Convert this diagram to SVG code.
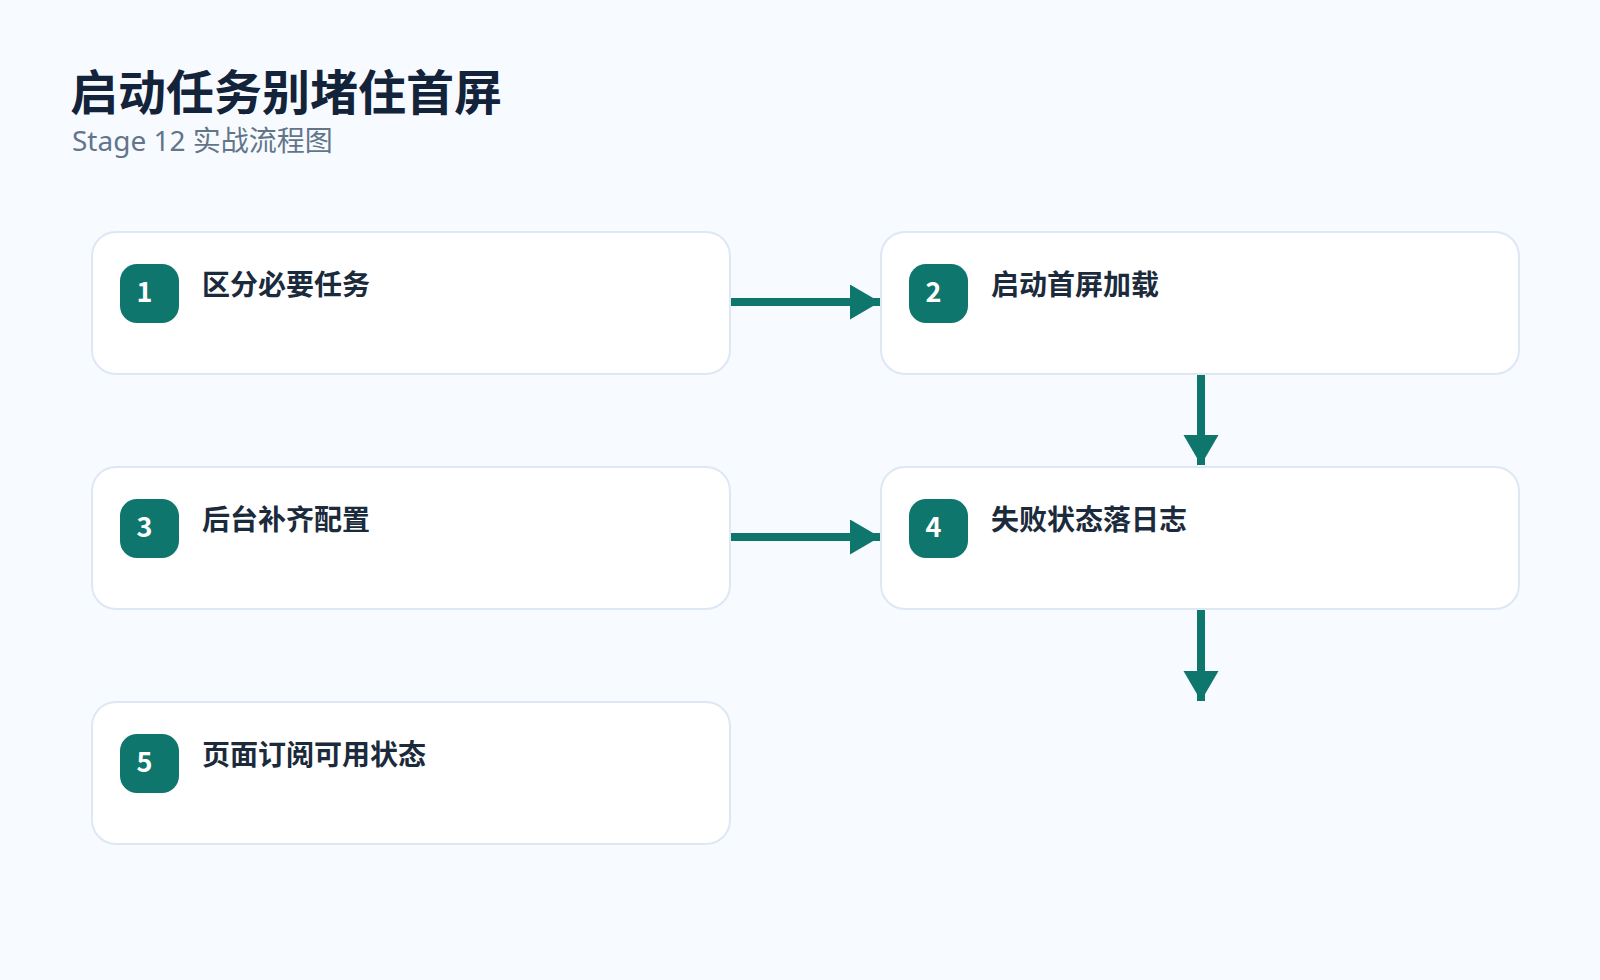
<svg xmlns="http://www.w3.org/2000/svg" width="1600" height="980" viewBox="0 0 1600 980">
<defs>
<style>
.box{fill:#ffffff;stroke:#dde8f4;stroke-width:2}
.badge{fill:#0f766e}
.num{font-family:"Noto Sans CJK SC","Noto Sans",sans-serif;font-weight:700;font-size:27px;fill:#ffffff;text-anchor:middle}
.lbl{font-family:"Noto Sans CJK SC",sans-serif;font-weight:700;font-size:28px;fill:#1b2b3c}
.edge{stroke:#0f766e;stroke-width:8;fill:none}
</style>
<marker id="ah" markerUnits="userSpaceOnUse" markerWidth="31" markerHeight="36" refX="30" refY="17.5" orient="auto">
<path d="M0,0 L30,17.5 L0,35 Z" fill="#0f766e"/>
</marker>
</defs>
<rect width="1600" height="980" fill="#f7fbff"/>
<text x="70" y="110" font-family="'Noto Sans CJK SC',sans-serif" font-weight="700" font-size="48" fill="#13233a">启动任务别堵住首屏</text>
<text x="72" y="151" font-family="'Noto Sans','Noto Sans CJK SC',sans-serif" font-size="28" fill="#62758a">Stage 12 实战流程图</text>
<g id="connectors">
<line class="edge" x1="730" y1="302" x2="880" y2="302" marker-end="url(#ah)"/>
<line class="edge" x1="1201" y1="374" x2="1201" y2="465" marker-end="url(#ah)"/>
<line class="edge" x1="730" y1="537" x2="880" y2="537" marker-end="url(#ah)"/>
<line class="edge" x1="1201" y1="609" x2="1201" y2="701" marker-end="url(#ah)"/>
</g>
<g id="node1">
<rect class="box" x="92" y="232" width="638" height="142" rx="24"/>
<rect class="badge" x="120" y="264" width="59" height="59" rx="17"/>
<text class="num" x="144.5" y="302">1</text>
<text class="lbl" x="202" y="295">区分必要任务</text>
</g>
<g id="node2">
<rect class="box" x="881" y="232" width="638" height="142" rx="24"/>
<rect class="badge" x="909" y="264" width="59" height="59" rx="17"/>
<text class="num" x="933.5" y="302">2</text>
<text class="lbl" x="991" y="295">启动首屏加载</text>
</g>
<g id="node3">
<rect class="box" x="92" y="467" width="638" height="142" rx="24"/>
<rect class="badge" x="120" y="499" width="59" height="59" rx="17"/>
<text class="num" x="144.5" y="537">3</text>
<text class="lbl" x="202" y="530">后台补齐配置</text>
</g>
<g id="node4">
<rect class="box" x="881" y="467" width="638" height="142" rx="24"/>
<rect class="badge" x="909" y="499" width="59" height="59" rx="17"/>
<text class="num" x="933.5" y="537">4</text>
<text class="lbl" x="991" y="530">失败状态落日志</text>
</g>
<g id="node5">
<rect class="box" x="92" y="702" width="638" height="142" rx="24"/>
<rect class="badge" x="120" y="734" width="59" height="59" rx="17"/>
<text class="num" x="144.5" y="772">5</text>
<text class="lbl" x="202" y="765">页面订阅可用状态</text>
</g>
</svg>
